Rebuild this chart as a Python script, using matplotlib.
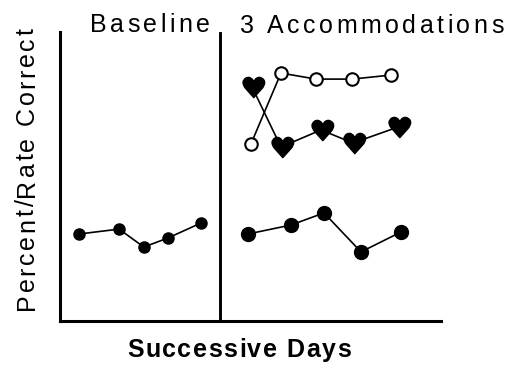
import matplotlib
matplotlib.use('Agg')
import matplotlib.pyplot as plt
import numpy as np
from matplotlib.textpath import TextPath
from matplotlib.font_manager import FontProperties
from matplotlib.path import Path

# values (x in days, y in percent of the axis height)
base_days = [0.5, 1.55, 2.2, 2.83, 3.7]
base_pct = [30.1, 31.8, 25.6, 28.7, 33.9]

acc_days_filled = [4.93, 6.06, 6.93, 7.9, 8.95]
acc_filled = [30.1, 33.2, 37.4, 23.9, 30.8]

acc_days_open = [5.01, 5.8, 6.72, 7.66, 8.69]
acc_open = [61.2, 85.8, 83.7, 83.7, 85.1]

acc_days_heart = [5.04, 5.8, 6.85, 7.69, 8.87]
acc_heart = [81.0, 60.2, 66.1, 61.6, 67.1]

phase_change = 4.19

W, H = 520, 378
FONT = 'Liberation Sans'


def heart_marker(aspect=1.2):
    tp = TextPath((0, 0), '\u2665', prop=FontProperties(family='DejaVu Sans'))
    v = tp.vertices.copy()
    mn, mx = v.min(axis=0), v.max(axis=0)
    v = v - (mn + mx) / 2
    wd, ht = mx - mn
    v[:, 0] *= aspect * ht / wd
    return Path(v, tp.codes)


def spaced_text(fig, s, x, y, size, track, weight='normal', vertical=False):
    # x, y are pixel positions from the top-left; text is centred on the
    # reading direction and sits on its baseline
    r = fig.canvas.get_renderer()
    prop = FontProperties(family=FONT, size=size, weight=weight)

    def w(t):
        return r.get_text_width_height_descent(t, prop, ismath=False)[0]

    total = w(s) + (len(s) - 1) * track
    for i, ch in enumerate(s):
        if ch == ' ':
            continue
        off = w(s[:i + 1]) - w(ch) + i * track
        if vertical:
            px, py, rot = x, y + total / 2 - off, 90
        else:
            px, py, rot = x - total / 2 + off, y, 0
        fig.text(px / W, 1 - py / H, ch, fontproperties=prop, rotation=rot,
                 rotation_mode='anchor', ha='left', va='baseline')


fig = plt.figure(figsize=(5.2, 3.78), dpi=100)
ax = fig.add_axes([60 / W, 1 - 321 / H, (441 - 60) / W, (321 - 32) / H])

lw = 1.2
ax.plot(base_days, base_pct, '-o', color='black', lw=lw, ms=8, mfc='black')
ax.plot(acc_days_filled, acc_filled, '-o', color='black', lw=lw, ms=10,
        mfc='black')
ax.plot(acc_days_heart, acc_heart, '-', color='black', lw=lw, zorder=2)
ax.plot(acc_days_open, acc_open, '-', color='black', lw=lw, zorder=2)
ax.plot(acc_days_heart, acc_heart, ls='none', marker=heart_marker(), ms=17.5,
        color='black', zorder=3)
ax.plot(acc_days_open, acc_open, ls='none', marker='o', ms=9, mfc='white',
        mec='black', mew=1.5, zorder=3)

ax.axvline(phase_change, ymin=0, ymax=0.995, color='black', lw=2.1)

ax.set_xlim(0, 10)
ax.set_ylim(0, 100)
ax.set_xticks([])
ax.set_yticks([])
for side in ['top', 'right']:
    ax.spines[side].set_visible(False)
for side in ['left', 'bottom']:
    ax.spines[side].set_linewidth(2.2)

spaced_text(fig, 'Baseline', 150, 32, 18, 3.4)
spaced_text(fig, '3 Accommodations', 372, 33, 18, 3.5)
spaced_text(fig, 'Percent/Rate Correct', 34, 169, 18, 2.5, vertical=True)
spaced_text(fig, 'Successive Days', 239, 357, 18, 1.5, weight='bold')

fig.savefig('out.png', dpi=100)
